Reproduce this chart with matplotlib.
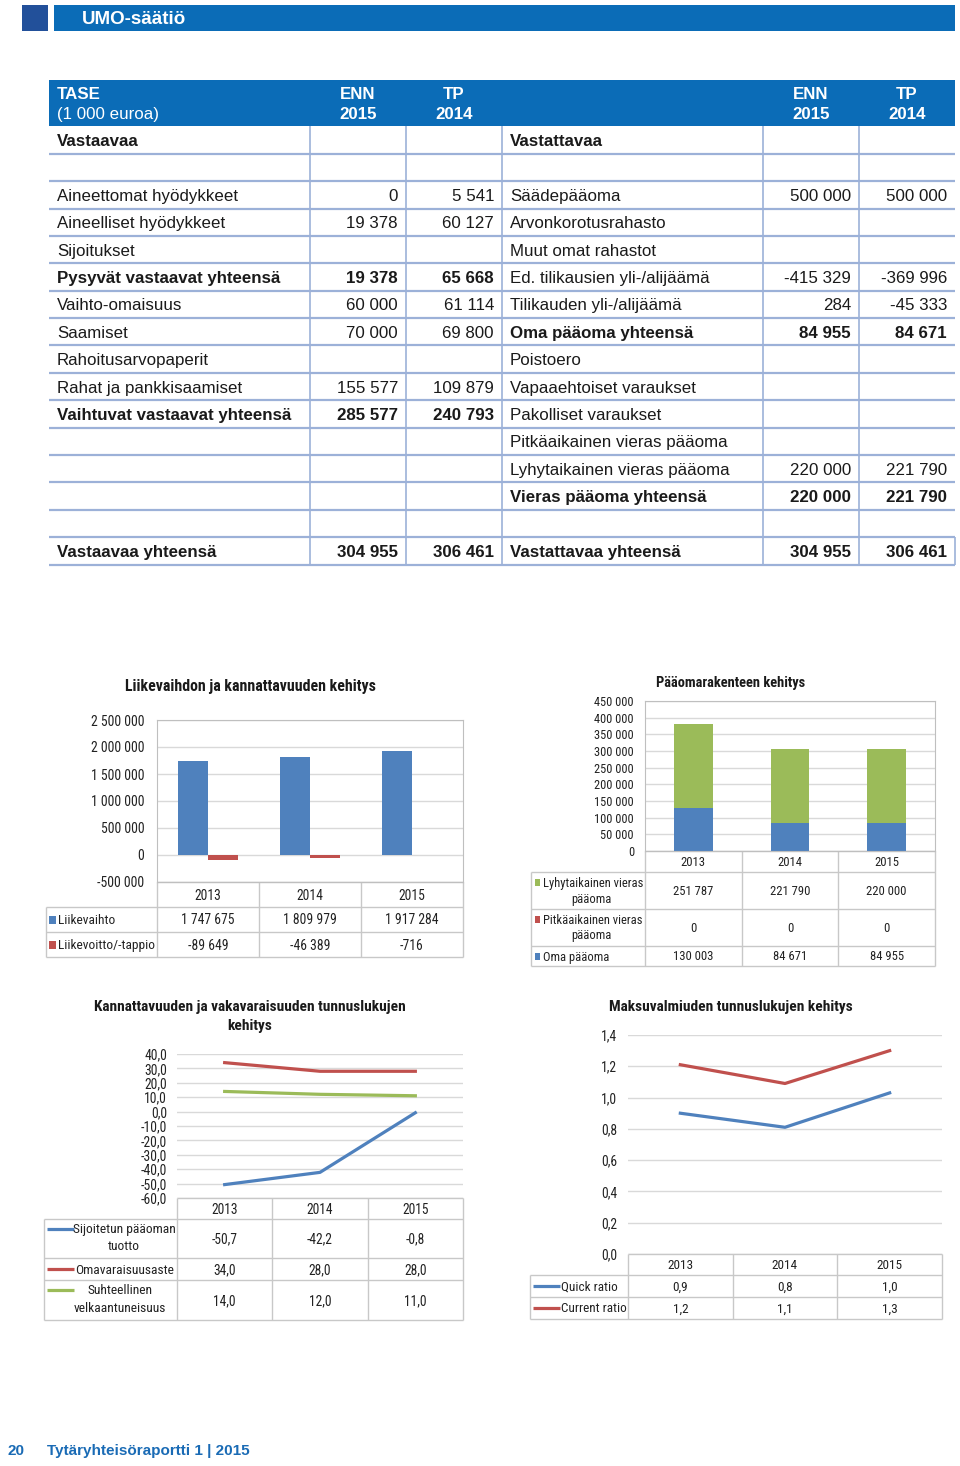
import numpy as np
import matplotlib
matplotlib.use("Agg")
import matplotlib.pyplot as plt
from matplotlib import transforms
from matplotlib import font_manager as fm
from matplotlib.patches import Rectangle
from matplotlib.ticker import FuncFormatter

# ---------------- data ----------------
years = ["2013", "2014", "2015"]

# balance sheet (TASE)
left_labels = ["Vastaavaa", "", "Aineettomat hyödykkeet", "Aineelliset hyödykkeet", "Sijoitukset",
               "Pysyvät vastaavat yhteensä", "Vaihto-omaisuus", "Saamiset", "Rahoitusarvopaperit",
               "Rahat ja pankkisaamiset", "Vaihtuvat vastaavat yhteensä", "", "", "", "",
               "Vastaavaa yhteensä"]
left_enn = [None, None, 0, 19378, None, 19378, 60000, 70000, None, 155577, 285577,
            None, None, None, None, 304955]
left_tp = [None, None, 5541, 60127, None, 65668, 61114, 69800, None, 109879, 240793,
           None, None, None, None, 306461]
left_bold = [0, 5, 10, 15]

right_labels = ["Vastattavaa", "", "Säädepääoma", "Arvonkorotusrahasto", "Muut omat rahastot",
                "Ed. tilikausien yli-/alijäämä", "Tilikauden yli-/alijäämä", "Oma pääoma yhteensä",
                "Poistoero", "Vapaaehtoiset varaukset", "Pakolliset varaukset",
                "Pitkäaikainen vieras pääoma", "Lyhytaikainen vieras pääoma",
                "Vieras pääoma yhteensä", "", "Vastattavaa yhteensä"]
right_enn = [None, None, 500000, None, None, -415329, 284, 84955, None, None, None, None,
             220000, 220000, None, 304955]
right_tp = [None, None, 500000, None, None, -369996, -45333, 84671, None, None, None, None,
            221790, 221790, None, 306461]
right_bold = [0, 7, 13, 15]

# chart 1
liikevaihto = [1747675, 1809979, 1917284]
liikevoitto = [-89649, -46389, -716]
# chart 2
lyhytaikainen = [251787, 221790, 220000]
pitkaaikainen = [0, 0, 0]
oma_paaoma = [130003, 84671, 84955]
# chart 3
sijoitetun_tuotto = [-50.7, -42.2, -0.8]
omavaraisuusaste = [34.0, 28.0, 28.0]
suht_velkaantuneisuus = [14.0, 12.0, 11.0]
# chart 4
quick_ratio = [0.90, 0.81, 1.03]
current_ratio = [1.21, 1.09, 1.30]

# ---------------- fonts ----------------
W, H = 960, 1466
SANS = ['Liberation Sans', 'DejaVu Sans']
_entries = fm.fontManager.ttflist
_names = {f.name for f in _entries}
NARROW = None
for cand in ['Liberation Sans Narrow', 'Arial Narrow', 'Roboto Condensed', 'Open Sans Condensed',
             'Noto Sans Condensed', 'DejaVu Sans Condensed']:
    if cand in _names:
        NARROW = dict(family=[cand, 'DejaVu Sans'])
        break
if NARROW is None:
    for base in ['Roboto', 'Noto Sans', 'Open Sans', 'DejaVu Sans']:
        if any(f.name == base and str(f.stretch) in ('condensed', 'semi-condensed', 'extra-condensed')
               for f in _entries):
            NARROW = dict(family=[base, 'DejaVu Sans'], stretch='condensed')
            break
IS_NARROW = NARROW is not None
if NARROW is None:
    NARROW = dict(family=['Roboto', 'Liberation Sans', 'DejaVu Sans'])
BOOST = 1.0 if IS_NARROW else 1.2

BLUE_HDR = '#0b6cb7'
DARK_SQ = '#22509a'
TXT = '#1a1a1a'
CTXT = '#222222'
TLINE = '#9cb1d8'
GRID = '#d9d9d9'
CELL = '#c8c8c8'
C_BLUE = '#4f81bd'
C_RED = '#c0504d'
C_GREEN = '#9bbb59'
TFS = 12.2

fig = plt.figure(figsize=(W / 100, H / 100), dpi=100)
page = fig.add_axes([0, 0, 1, 1])
page.set_xlim(0, W)
page.set_ylim(H, 0)
page.axis('off')
renderer = fig.canvas.get_renderer()


def fit_fs(s, target_w, weight='normal', cap=12.0, boost=None):
    b = BOOST if boost is None else boost
    t = fig.text(0, 0, s, fontsize=10, fontweight=weight, **NARROW)
    w = t.get_window_extent(renderer).width
    t.remove()
    return min(cap, 10.0 * target_w / w * b)


def rect(x0, y0, x1, y1):
    return [x0 / W, 1 - y1 / H, (x1 - x0) / W, (y1 - y0) / H]


def thou(v):
    return f"{v:,}".replace(",", " ")


def dec1(v):
    return f"{v:.1f}".replace(".", ",")


def hline(x0, x1, y, c=CELL, lw=1.0):
    page.plot([x0, x1], [y, y], color=c, lw=lw, solid_capstyle='butt')


def vline(x, y0, y1, c=CELL, lw=1.0):
    page.plot([x, x], [y0, y1], color=c, lw=lw, solid_capstyle='butt')


def ctext(x, y, s, fs, ha='left', weight='normal', **kw):
    page.text(x, y + 1, s, fontsize=fs, fontweight=weight, ha=ha, va='center',
              color=kw.pop('color', CTXT), **NARROW, **kw)


# ---------------- page header ----------------
page.add_patch(Rectangle((22, 5), 26, 26, color=DARK_SQ, lw=0))
page.add_patch(Rectangle((54, 5), 901, 26, color=BLUE_HDR, lw=0))
page.text(82, 19.5, "UMO-säätiö", color='white', fontsize=13.5, fontweight='bold',
          family=SANS, va='center', ha='left')

# ---------------- balance table ----------------
page.add_patch(Rectangle((49, 80), 906, 46, color=BLUE_HDR, lw=0))
page.text(57, 94.5, "TASE", color='white', fontsize=TFS, fontweight='bold', family=SANS, va='center')
page.text(57, 114.5, "(1 000 euroa)", color='white', fontsize=TFS, family=SANS, va='center')
for cx, a, b in [(358, "ENN", "2015"), (454, "TP", "2014"), (811, "ENN", "2015"), (907, "TP", "2014")]:
    page.text(cx, 94.5, a, color='white', fontsize=TFS, fontweight='bold', family=SANS, va='center', ha='center')
    page.text(cx, 114.5, b, color='white', fontsize=TFS, fontweight='bold', family=SANS, va='center', ha='center')

row0 = 140.0
step = 27.4
nrows = len(left_labels)
for i in range(nrows):
    yc = row0 + i * step
    ty = yc + 1.5
    lw_l = 'bold' if i in left_bold else 'normal'
    lw_r = 'bold' if i in right_bold else 'normal'
    page.text(57, ty, left_labels[i], fontsize=TFS, fontweight=lw_l, family=SANS, color=TXT, va='center')
    page.text(510, ty, right_labels[i], fontsize=TFS, fontweight=lw_r, family=SANS, color=TXT, va='center')
    for xr, vals, wt in [(398, left_enn, lw_l), (494, left_tp, lw_l),
                         (851, right_enn, lw_r), (947, right_tp, lw_r)]:
        if vals[i] is not None:
            page.text(xr, ty, thou(vals[i]), fontsize=TFS, fontweight=wt, family=SANS,
                      color=TXT, va='center', ha='right')
    hline(49, 955, yc + step / 2, c=TLINE, lw=1.6)
top = row0 - step / 2
bot = row0 + (nrows - 0.5) * step
for xv in [310, 406, 502, 763, 859]:
    vline(xv, top, bot, c=TLINE, lw=1.2)
vline(955, bot - step, bot, c=TLINE, lw=1.2)


# ---------------- helpers for charts ----------------
def style_axes(ax, tick_fs, pad, box=False):
    ax.set_facecolor('none')
    ax.grid(axis='y', color=GRID, lw=1.0)
    ax.set_axisbelow(True)
    ax.set_xlim(-0.5, 2.5)
    ax.set_xticks([])
    ax.tick_params(axis='y', length=0, pad=pad, labelsize=tick_fs, colors=CTXT)
    for lab in ax.get_yticklabels():
        lab.set_family(NARROW['family'])
        if 'stretch' in NARROW:
            lab.set_stretch(NARROW['stretch'])
    for s in ax.spines.values():
        s.set_visible(box)
        s.set_color('#bfbfbf')


def table_grid(ax, xleft, rows_y, ncols=3):
    x0, x1 = ax.get_position().x0 * W, ax.get_position().x1 * W
    for k, y in enumerate(rows_y):
        hline(x0 if k == 0 else xleft, x1, y)
    vline(xleft, rows_y[1], rows_y[-1])
    for j in range(ncols + 1):
        vline(x0 + j * (x1 - x0) / ncols, rows_y[0], rows_y[-1])


def table_text(ax, y, texts, fs):
    tr = transforms.blended_transform_factory(ax.transData, page.transData)
    for j, t in enumerate(texts):
        page.text(j, y + 1, t, transform=tr, ha='center', va='center', fontsize=fs,
                  color=CTXT, **NARROW)


xs = np.arange(3)

# ---------------- chart 1 ----------------
t1 = "Liikevaihdon ja kannattavuuden kehitys"
ctext(250, 686, t1, fit_fs(t1, 252, 'bold', 13), ha='center', weight='bold', color=TXT)
ax1 = fig.add_axes(rect(157, 720, 463, 882))
bw = 0.29
ax1.bar(xs - bw / 2, liikevaihto, bw, color=C_BLUE)
ax1.bar(xs + bw / 2, liikevoitto, bw, color=C_RED)
ax1.set_ylim(-500000, 2500000)
ax1.set_yticks(np.arange(-500000, 2500001, 500000))
ax1.yaxis.set_major_formatter(FuncFormatter(lambda v, p: thou(int(v))))
style_axes(ax1, fit_fs("2 500 000", 53, cap=11.5), 9, box=True)
table_grid(ax1, 46, [882, 907, 932, 957])
fs1 = fit_fs("1 747 675", 53, cap=11.5)
table_text(ax1, 894.5, years, fs1)
table_text(ax1, 919.5, [thou(v) for v in liikevaihto], fs1)
table_text(ax1, 944.5, [thou(v) for v in liikevoitto], fs1)
fl1 = fit_fs("Liikevoitto/-tappio", 96, cap=11.5, boost=1.0)
for y, c, lab in [(919.5, C_BLUE, "Liikevaihto"), (944.5, C_RED, "Liikevoitto/-tappio")]:
    page.add_patch(Rectangle((49, y - 4), 7, 8, color=c, lw=0))
    ctext(58, y, lab, fl1)

# ---------------- chart 2 ----------------
t2 = "Pääomarakenteen kehitys"
ctext(731, 682, t2, fit_fs(t2, 149, 'bold', 12), ha='center', weight='bold', color=TXT)
ax2 = fig.add_axes(rect(645, 701, 935, 851))
bw2 = 0.4
oma = np.array(oma_paaoma)
pit = np.array(pitkaaikainen)
ax2.bar(xs, oma, bw2, color=C_BLUE)
ax2.bar(xs, pit, bw2, bottom=oma, color=C_RED)
ax2.bar(xs, lyhytaikainen, bw2, bottom=oma + pit, color=C_GREEN)
ax2.set_ylim(0, 450000)
ax2.set_yticks(np.arange(0, 450001, 50000))
ax2.yaxis.set_major_formatter(FuncFormatter(lambda v, p: thou(int(v))))
style_axes(ax2, fit_fs("450 000", 39, cap=10), 8, box=True)
table_grid(ax2, 531, [851, 872, 909, 946, 966])
fs2 = fit_fs("251 787", 40, cap=10)
table_text(ax2, 861.5, years, fs2)
table_text(ax2, 890.5, [thou(v) for v in lyhytaikainen], fs2)
table_text(ax2, 927.5, [thou(v) for v in pitkaaikainen], fs2)
table_text(ax2, 956, [thou(v) for v in oma_paaoma], fs2)
fl2 = fit_fs("Lyhytaikainen vieras", 99, cap=10, boost=1.0)
for y, c, l1, l2 in [(882, C_GREEN, "Lyhytaikainen vieras", "pääoma"),
                     (919, C_RED, "Pitkäaikainen vieras", "pääoma")]:
    page.add_patch(Rectangle((535, y - 3.5), 5, 7, color=c, lw=0))
    ctext(543, y, l1, fl2)
    ctext(591, y + 16, l2, fl2, ha='center')
page.add_patch(Rectangle((535, 956 - 3.5), 5, 7, color=C_BLUE, lw=0))
ctext(543, 956, "Oma pääoma", fl2)

# ---------------- chart 3 ----------------
t3a = "Kannattavuuden ja vakavaraisuuden tunnuslukujen"
ft3 = fit_fs(t3a, 312, 'bold', 12)
ctext(250, 1006, t3a, ft3, ha='center', weight='bold', color=TXT)
ctext(250, 1025, "kehitys", ft3, ha='center', weight='bold', color=TXT)
ax3 = fig.add_axes(rect(177, 1054, 463, 1198))
ax3.plot(xs, sijoitetun_tuotto, color=C_BLUE, lw=2.3)
ax3.plot(xs, omavaraisuusaste, color=C_RED, lw=2.3)
ax3.plot(xs, suht_velkaantuneisuus, color=C_GREEN, lw=2.3)
ax3.set_ylim(-60, 40)
ax3.set_yticks(np.arange(-60, 41, 10))
ax3.yaxis.set_major_formatter(FuncFormatter(lambda v, p: dec1(v)))
style_axes(ax3, fit_fs("-60,0", 26, cap=10), 7)
table_grid(ax3, 44, [1198, 1219, 1258, 1280, 1320])
fs3 = fit_fs("-50,7", 26, cap=10)
table_text(ax3, 1208.5, years, fs3)
table_text(ax3, 1238.5, [dec1(v) for v in sijoitetun_tuotto], fs3)
table_text(ax3, 1269, [dec1(v) for v in omavaraisuusaste], fs3)
table_text(ax3, 1300, [dec1(v) for v in suht_velkaantuneisuus], fs3)
for ly, c in [(1229, C_BLUE), (1269, C_RED), (1290, C_GREEN)]:
    page.plot([47, 74], [ly, ly], color=c, lw=2.3, solid_capstyle='butt')
fl3 = fit_fs("Omavaraisuusaste", 98, cap=10, boost=1.0)
ctext(124, 1229, "Sijoitetun pääoman", fl3, ha='center')
ctext(124, 1246, "tuotto", fl3, ha='center')
ctext(75, 1269, "Omavaraisuusaste", fl3)
ctext(120, 1290, "Suhteellinen", fl3, ha='center')
ctext(120, 1308, "velkaantuneisuus", fl3, ha='center')

# ---------------- chart 4 ----------------
t4 = "Maksuvalmiuden tunnuslukujen kehitys"
ctext(731, 1006, t4, fit_fs(t4, 242, 'bold', 12), ha='center', weight='bold', color=TXT)
ax4 = fig.add_axes(rect(628, 1035, 942, 1254))
ax4.plot(xs, quick_ratio, color=C_BLUE, lw=2.3)
ax4.plot(xs, current_ratio, color=C_RED, lw=2.3)
ax4.set_ylim(0, 1.4)
ax4.set_yticks(np.arange(0, 1.41, 0.2))
ax4.yaxis.set_major_formatter(FuncFormatter(lambda v, p: dec1(v)))
style_axes(ax4, fit_fs("1,4", 16, cap=10.5), 8)
table_grid(ax4, 530, [1254, 1275, 1297, 1319])
fs4 = fit_fs("2013", 26, cap=10.5)
table_text(ax4, 1264.5, years, fs4)
table_text(ax4, 1286, [dec1(v) for v in quick_ratio], fs4)
table_text(ax4, 1308, [dec1(v) for v in current_ratio], fs4)
fl4 = fit_fs("Current ratio", 65, cap=10.5, boost=1.0)
for ly, c, lab in [(1286, C_BLUE, "Quick ratio"), (1308, C_RED, "Current ratio")]:
    page.plot([533, 560], [ly, ly], color=c, lw=2.3, solid_capstyle='butt')
    ctext(561, ly, lab, fl4)

# ---------------- footer ----------------
page.text(8, 1451, "20", color='#1a6bb5', fontsize=11, fontweight='bold', family=SANS, va='center')
page.text(47, 1451, "Tytäryhteisöraportti 1 | 2015", color='#1a6bb5', fontsize=11,
          fontweight='bold', family=SANS, va='center')

fig.savefig("out.png", dpi=100)
